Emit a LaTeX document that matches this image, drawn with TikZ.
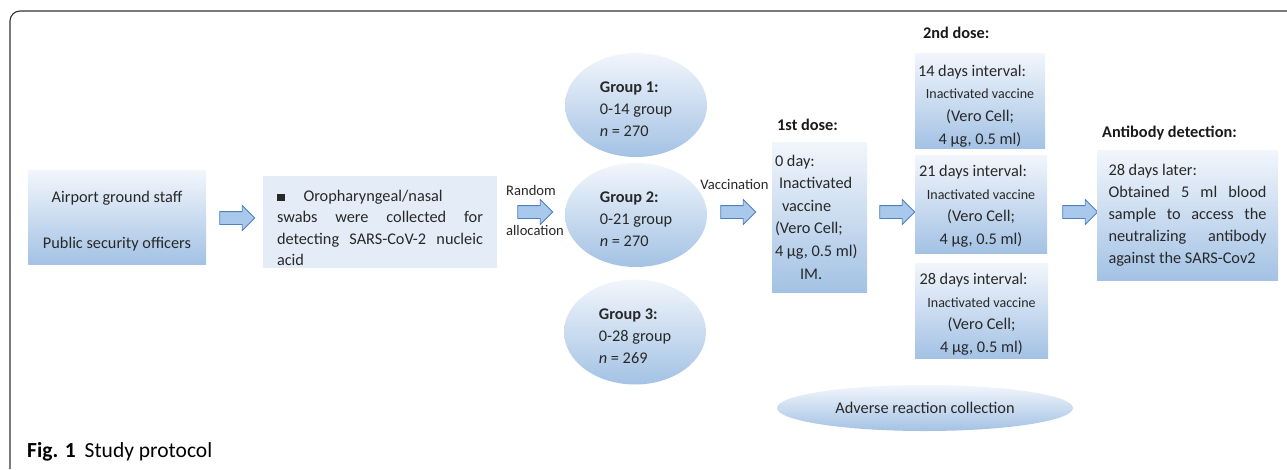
\documentclass[tikz,border=0pt]{standalone}
\usepackage{fontspec}
\setmainfont{Carlito}
\usetikzlibrary{shapes.geometric,shapes.arrows}
\definecolor{bxtop}{RGB}{242,246,252}
\definecolor{bxbot}{RGB}{163,194,228}
\definecolor{bxlite}{RGB}{228,237,247}
\definecolor{arfill}{RGB}{169,201,236}
\definecolor{ardraw}{RGB}{79,129,189}
\definecolor{txtc}{RGB}{40,40,40}
\definecolor{framec}{RGB}{50,50,50}
\newcommand{\jline}[2]{\makebox[#1][s]{\spaceskip=0pt\relax#2}}
\newcommand{\tstrut}[1]{\rule{0pt}{#1}}
\begin{document}
\begin{tikzpicture}[x=1pt,y=-1pt,
  every node/.style={font=\fontsize{16.3}{22}\selectfont, text=txtc},
  gbox/.style={rectangle, top color=bxtop, bottom color=bxbot, draw=none, inner sep=0pt},
  gell/.style={ellipse, top color=bxtop, bottom color=bxbot, draw=none, inner sep=0pt, align=flush left},
  barrow/.style={single arrow, fill=arfill, draw=ardraw, line width=0.8pt, minimum height=35pt, minimum width=24pt, single arrow head extend=6pt, inner sep=6pt, anchor=center},
  hdr/.style={font=\bfseries\fontsize{16.3}{22}\selectfont, anchor=west, inner sep=0pt, text=black!90},
  lbl/.style={inner sep=0pt, font=\fontsize{14.6}{18}\selectfont},
  dbox/.style={gbox, text width=124pt, inner xsep=3pt, align=flush center, font=\fontsize{16.3}{22.6}\selectfont}
]
\useasboundingbox (0,0) rectangle (1287,469);
\draw[framec, line width=1.1pt, rounded corners=10pt] (10,469) -- (10,11) -- (1287,11);

% column 1
\node[gbox, minimum width=178pt, minimum height=94pt, align=flush center] (staff) at (117,217)
  {\tstrut{20pt}Airport ground staff\\[24pt]Public security officers};
\node[barrow] (a1) at (234,218) {};

% column 2
\node[rectangle, fill=bxlite, minimum width=234pt, minimum height=92pt, text width=206pt,
  inner xsep=14pt, inner ysep=0pt, align=flush left, font=\fontsize{16.3}{21.3}\selectfont] (swab) at (380,222)
  {\tstrut{23pt}\rule{7.5pt}{7.5pt}\hspace{19pt}Oropharyngeal/nasal\\
   \jline{206pt}{swabs were collected for}\\
   \jline{206pt}{detecting SARS-CoV-2 nucleic}\\
   acid};
\node[barrow] (a2) at (532,212) {};
\node[lbl] (rnd) at (531,190) {Random};
\node[lbl] (alloc) at (535,230) {allocation};

% groups
\node[gell, minimum width=142pt, minimum height=104pt] (g1) at (636,105)
  {\tstrut{20pt}\textbf{Group 1:}\\0-14 group\\\textit{n} = 270};
\node[gell, minimum width=142pt, minimum height=104pt] (g2) at (636,215)
  {\tstrut{20pt}\textbf{Group 2:}\\0-21 group\\\textit{n} = 270};
\node[gell, minimum width=142pt, minimum height=105pt] (g3) at (635,332)
  {\tstrut{20pt}\textbf{Group 3:}\\0-28 group\\\textit{n} = 269};

\node[barrow] (a3) at (735,212) {};
\node[lbl] (vac) at (734.5,185) {Vaccination};

% first dose
\node[hdr] (h1) at (777,125) {1st dose:};
\node[gbox, minimum width=95pt, minimum height=150pt, text width=89pt, inner xsep=3pt, align=flush left,
  font=\fontsize{16.3}{22.6}\selectfont] (d1) at (819.5,217)
  {0 day:\\\hspace*{4pt}Inactivated\\\hspace*{7pt}vaccine\\(Vero Cell;\\4 µg, 0.5 ml)\\\hspace*{25pt}IM.};
\node[barrow] (a4) at (894,212) {};

% second dose
\node[hdr] (h2) at (923,33) {2nd dose:};
\node[dbox, minimum width=130pt, minimum height=95pt] (d14) at (980,100.5)
  {\makebox[124pt][l]{\tstrut{22pt}14 days interval:}\\{\fontsize{14}{22.6}\selectfont Inactivated vaccine}\\(Vero Cell;\\4 µg, 0.5 ml)};
\node[dbox, minimum width=132pt, minimum height=98pt] (d21) at (981,204)
  {\makebox[124pt][l]{\tstrut{16pt}21 days interval:}\\{\fontsize{14}{22.6}\selectfont Inactivated vaccine}\\(Vero Cell;\\4 µg, 0.5 ml)};
\node[dbox, minimum width=133pt, minimum height=95pt] (d28) at (981.5,310.5)
  {\makebox[124pt][l]{\tstrut{19pt}28 days interval:}\\{\fontsize{14}{22.6}\selectfont Inactivated vaccine}\\(Vero Cell;\\4 µg, 0.5 ml)};
\node[barrow] (a5) at (1077,212) {};

% antibody
\node[hdr] (h3) at (1102,133) {Antibody detection:};
\node[gbox, minimum width=181pt, minimum height=130pt, text width=158pt, inner xsep=11.5pt, align=flush left] (ab) at (1187.5,215)
  {28 days later:\\
   \jline{158pt}{Obtained 5 ml blood}\\
   \jline{158pt}{sample to access the}\\
   \jline{158pt}{neutralizing antibody}\\
   against the SARS-Cov2};

% adverse
\node[ellipse, top color=bxtop, bottom color=bxbot, minimum width=296pt, minimum height=46pt, inner sep=0pt] (adv) at (925,408)
  {Adverse reaction collection};

% caption
\node[anchor=west, inner sep=0pt, font=\fontsize{21.5}{24}\selectfont, text=black] (cap) at (27,452)
  {\textbf{Fig. 1}\hspace{9pt}Study protocol};
\end{tikzpicture}
\end{document}
